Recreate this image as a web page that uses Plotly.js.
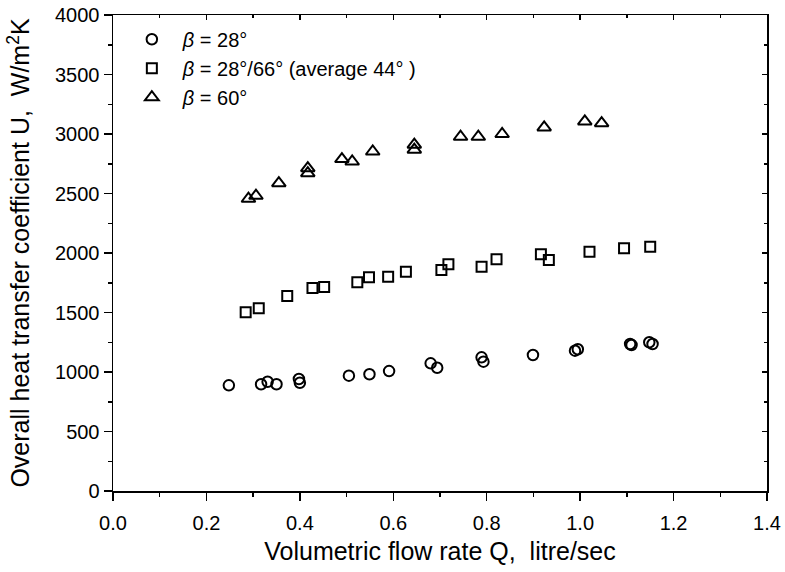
<!DOCTYPE html>
<html>
<head>
<meta charset="utf-8">
<script src="https://cdn.plot.ly/plotly-3.0.1.min.js"></script>
<style>html,body{margin:0;padding:0;background:#fff;}</style>
</head>
<body>
<div id="chart" style="width:785px;height:572px;"></div>
<script>
// Series: beta = 28 deg (circles)
const q28 = [0.248, 0.317, 0.331, 0.350, 0.398, 0.400, 0.505, 0.549, 0.591, 0.680, 0.694, 0.789, 0.793, 0.899, 0.989, 0.995, 1.107, 1.110, 1.148, 1.155];
const u28 = [888, 897, 918, 897, 941, 910, 969, 981, 1008, 1073, 1036, 1123, 1087, 1143, 1179, 1191, 1235, 1227, 1250, 1235];
// Series: beta = 28/66 deg (squares)
const q44 = [0.284, 0.312, 0.373, 0.427, 0.452, 0.523, 0.548, 0.589, 0.627, 0.703, 0.718, 0.789, 0.821, 0.916, 0.933, 1.020, 1.094, 1.150];
const u44 = [1502, 1535, 1639, 1706, 1714, 1754, 1796, 1801, 1843, 1857, 1905, 1885, 1947, 1989, 1941, 2011, 2039, 2053];
// Series: beta = 60 deg (triangles)
const q60 = [0.290, 0.306, 0.355, 0.417, 0.417, 0.490, 0.512, 0.556, 0.645, 0.645, 0.744, 0.782, 0.833, 0.923, 1.010, 1.046];
const u60 = [2456, 2481, 2587, 2713, 2671, 2789, 2769, 2853, 2910, 2868, 2977, 2977, 3000, 3055, 3106, 3091];

const names = ["<i>β</i> = 28°", "<i>β</i> = 28°/66° (average 44° )", "<i>β</i> = 60°"];
const xTitle = "Volumetric flow rate Q,  litre/sec";
const yTitle = "Overall heat transfer coefficient U,  W/m<sup>2</sup>K";

const font = "Liberation Sans, Arial, sans-serif";
function tr(x, y, name, symbol, size) {
  return {x: x, y: y, name: name, type: "scatter", mode: "markers", legendgroup: name,
    marker: {symbol: symbol, size: size, color: "#000", line: {color: "#000", width: 2}}};
}
const data = [
  tr(q28, u28, names[0], "circle-open", 10.5),
  tr(q44, u44, names[1], "square-open", 10),
  tr(q60, u60, names[2], "triangle-up-open", 12)
];
const axBase = {showgrid: false, zeroline: false, showline: true, linecolor: "#000", linewidth: 1.5,
  tickcolor: "#000", tickwidth: 1.5, ticklen: 8, ticks: "outside",
  tickfont: {family: font, size: 20, color: "#000"}};
const layout = {
  width: 785, height: 572,
  margin: {l: 113, r: 18, t: 15, b: 81},
  paper_bgcolor: "#fff", plot_bgcolor: "#fff",
  showlegend: true,
  legend: {x: 0.012, y: 0.99, xanchor: "left", yanchor: "top", bgcolor: "rgba(0,0,0,0)",
    font: {family: font, size: 20, color: "#000"}, tracegroupgap: 0, itemwidth: 52},
  xaxis: Object.assign({}, axBase, {range: [0, 1.4], dtick: 0.2, tick0: 0, tickformat: ".1f",
    ticklabelstandoff: 5,
    minor: {ticks: "outside", dtick: 0.1, ticklen: 4, tickcolor: "#000", tickwidth: 1.5},
    title: {text: xTitle, font: {family: font, size: 25, color: "#000"}, standoff: 10}}),
  yaxis: Object.assign({}, axBase, {range: [0, 4000], dtick: 500, tick0: 0,
    minor: {ticks: "outside", dtick: 250, ticklen: 4, tickcolor: "#000", tickwidth: 1.5},
    title: {text: yTitle, font: {family: font, size: 25, color: "#000"}, standoff: 18}}),
  xaxis2: Object.assign({}, axBase, {range: [0, 1.4], dtick: 0.2, overlaying: "x", side: "top", anchor: "y",
    ticks: "inside", showticklabels: false, ticklen: 5,
    minor: {ticks: "inside", dtick: 0.1, ticklen: 3, tickcolor: "#000", tickwidth: 1.5}}),
  yaxis2: Object.assign({}, axBase, {range: [0, 4000], dtick: 500, overlaying: "y", side: "right", anchor: "x",
    ticks: "inside", showticklabels: false, ticklen: 5,
    minor: {ticks: "inside", dtick: 250, ticklen: 3, tickcolor: "#000", tickwidth: 1.5}})
};
// invisible helper trace so the mirrored frame axes render
data.push({x: [0], y: [0], xaxis: "x2", yaxis: "y2", type: "scatter", mode: "markers",
  marker: {opacity: 0}, showlegend: false, hoverinfo: "skip"});
Plotly.newPlot("chart", data, layout, {displayModeBar: false, staticPlot: true});
</script>
</body>
</html>
